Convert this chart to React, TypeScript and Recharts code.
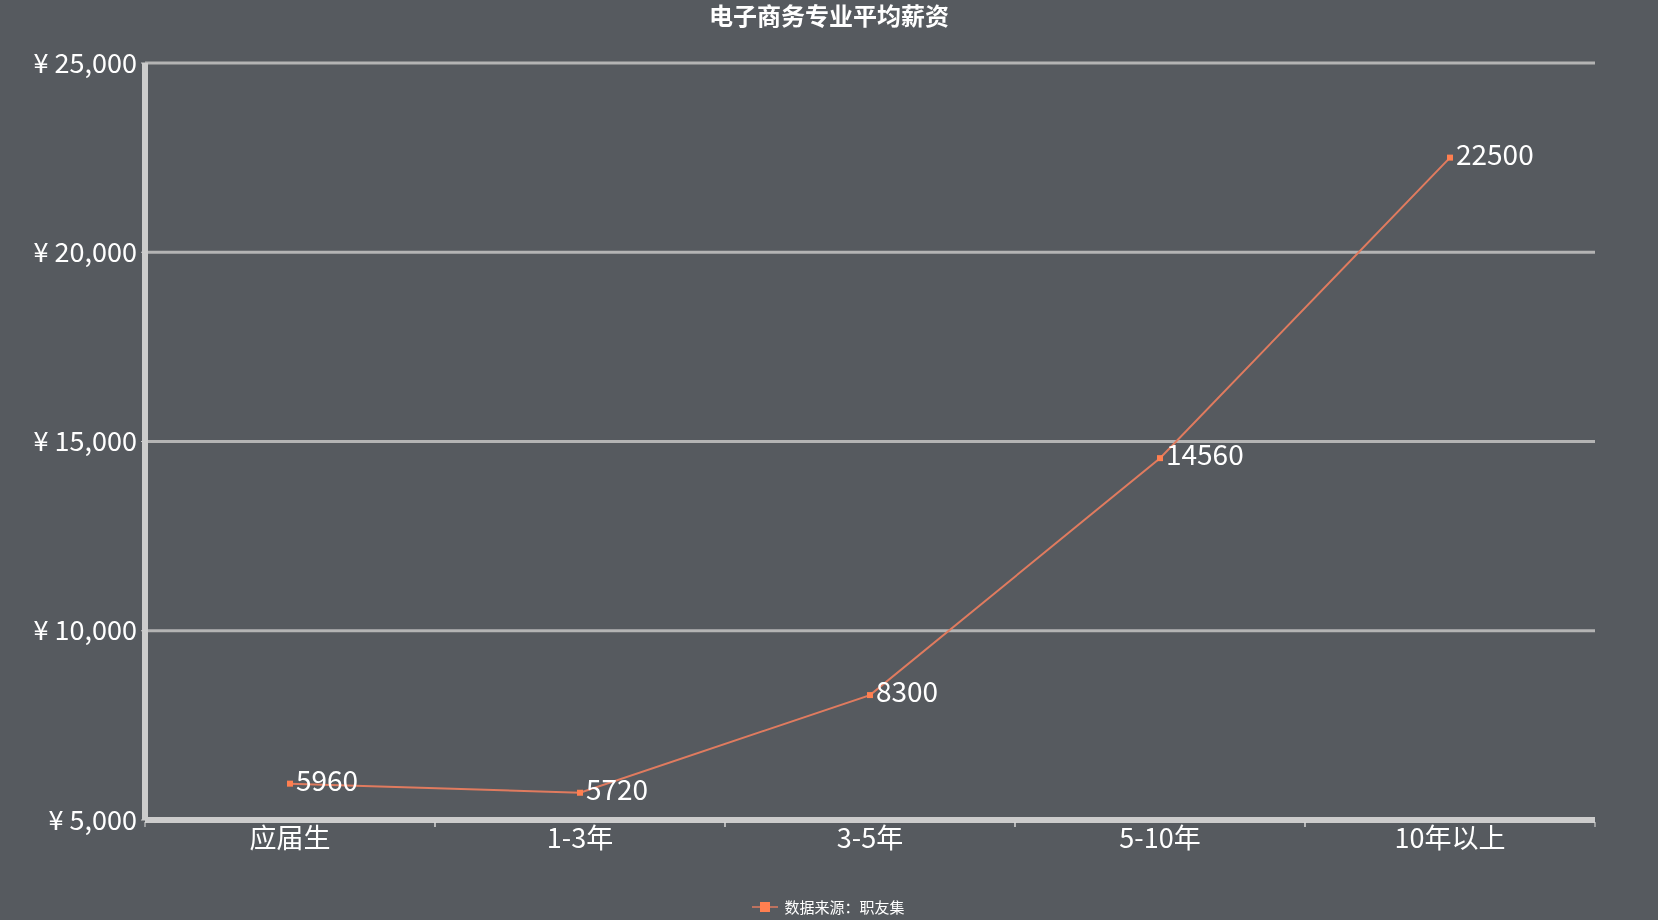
import { LineChart, Line, XAxis, YAxis, CartesianGrid, Legend, LabelList } from 'recharts';

const categories = ['应届生', '1-3年', '3-5年', '5-10年', '10年以上'];
const salaries = [5960, 5720, 8300, 14560, 22500];
const yTicks = [5000, 10000, 15000, 20000, 25000];

const W = 1658;
const H = 920;
const BG = '#565a5f';
const FONT = '"Microsoft YaHei", "Noto Sans CJK SC", sans-serif';
const margin = { top: 63, right: 63, bottom: 0, left: 0 };
const yAxisWidth = 145;
const bandWidth = (W - margin.left - margin.right - yAxisWidth) / categories.length;

const data = categories.map((name, i) => ({ name, salary: salaries[i] }));

const fmtYen = (v: number) => `¥ ${v.toLocaleString('en-US')}`;

function XTick(props: any) {
  const { x, y, payload } = props;
  const half = bandWidth / 2;
  return (
    <g>
      <line x1={x - half} y1={y - 6} x2={x - half} y2={y - 1} stroke="#d8d8d8" strokeWidth={1} />
      <line x1={x + half} y1={y - 6} x2={x + half} y2={y - 1} stroke="#d8d8d8" strokeWidth={1} />
      <text x={x} y={y + 20} textAnchor="middle" fill="#fff" fontSize={27} fontFamily={FONT}>
        {payload.value}
      </text>
    </g>
  );
}

function SquareDot(props: any) {
  const { cx, cy } = props;
  if (cx == null || cy == null) return null;
  return <rect x={cx - 3} y={cy - 3} width={6} height={6} fill="#ff7f50" />;
}

function LegendContent() {
  return (
    <div
      style={{
        display: 'flex',
        justifyContent: 'center',
        alignItems: 'center',
        fontFamily: FONT,
        fontSize: 15,
        color: '#fff',
        paddingTop: 16,
        paddingLeft: 62,
      }}
    >
      <svg width={26} height={14} style={{ marginRight: 6 }}>
        <line x1={0} y1={7} x2={26} y2={7} stroke="#e07b5f" strokeWidth={1.5} />
        <rect x={8} y={2} width={10} height={10} fill="#ff7f50" />
      </svg>
      <span>数据来源：职友集</span>
    </div>
  );
}

export default function App() {
  return (
    <div style={{ position: 'fixed', left: 0, top: 0, width: W, height: H, background: BG }}>
      <div
        style={{
          position: 'absolute',
          top: 0,
          left: 0,
          width: W,
          textAlign: 'center',
          color: '#fff',
          fontFamily: FONT,
          fontWeight: 'bold',
          fontSize: 24,
          lineHeight: '30px',
        }}
      >
        电子商务专业平均薪资
      </div>
      <LineChart width={W} height={H} data={data} margin={margin}>
        <CartesianGrid horizontal vertical={false} stroke="#b4b4b4" strokeWidth={3} />
        <XAxis
          dataKey="name"
          scale="band"
          height={60}
          axisLine={{ stroke: '#cccccc', strokeWidth: 6 }}
          tickLine={false}
          tick={<XTick />}
          interval={0}
        />
        <YAxis
          width={yAxisWidth}
          domain={[5000, 25000]}
          ticks={yTicks}
          tickFormatter={fmtYen}
          axisLine={{ stroke: '#cccccc', strokeWidth: 6 }}
          tickLine={{ stroke: '#cccccc' }}
          tickSize={4}
          tickMargin={4}
          tick={{ fill: '#fff', fontSize: 27, fontFamily: FONT }}
        />
        <Legend verticalAlign="bottom" height={40} content={<LegendContent />} />
        <Line
          type="linear"
          dataKey="salary"
          name="数据来源：职友集"
          stroke="#e07b5f"
          strokeWidth={2}
          dot={<SquareDot />}
          activeDot={false}
          isAnimationActive={false}
        >
          <LabelList
            dataKey="salary"
            position="right"
            offset={6}
            dy={-3}
            fill="#fff"
            fontSize={28}
            fontFamily={FONT}
          />
        </Line>
      </LineChart>
    </div>
  );
}
